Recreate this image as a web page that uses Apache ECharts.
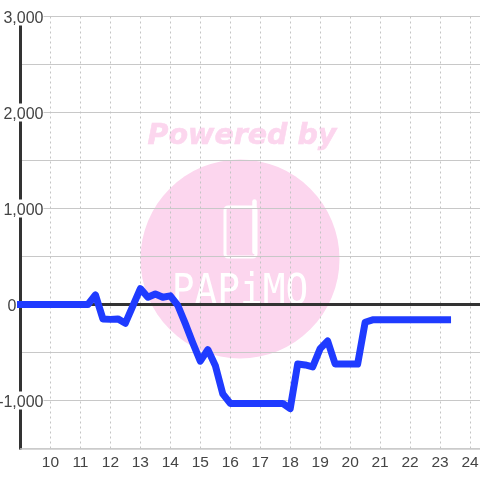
<!DOCTYPE html>
<html><head><meta charset="utf-8">
<style>html,body{margin:0;padding:0;background:#fff}#c{width:480px;height:480px}</style>
<script src="https://cdn.jsdelivr.net/npm/echarts@6/dist/echarts.min.js"></script>
</head><body><div id="c"></div>
<script>
var hours=[9,9.25,9.5,9.75,10,10.25,10.5,10.75,11,11.25,11.5,11.75,12,12.25,12.5,12.75,13,13.25,13.5,13.75,14,14.25,14.5,14.75,15,15.25,15.5,15.75,16,16.25,16.5,16.75,17,17.25,17.5,17.75,18,18.25,18.5,18.75,19,19.25,19.5,19.75,20,20.25,20.5,20.75,21,21.25,21.5,21.75,22,22.25,22.5,22.75,23,23.25];
var values=[0,0,0,0,0,0,0,0,0,0,100,-150,-155,-150,-195,-15,165,75,110,75,90,-10,-200,-400,-590,-470,-635,-930,-1030,-1030,-1030,-1030,-1030,-1030,-1030,-1030,-1085,-620,-630,-650,-460,-380,-620,-620,-620,-620,-185,-160,-160,-160,-160,-160,-160,-160,-160,-160,-160,-160];
var pink='#fcd6ee';
var chart=echarts.init(document.getElementById('c'),null,{renderer:'canvas'});
chart.setOption({
 animation:false,
 grid:{left:20.5,right:0,top:16.5,bottom:31.5,containLabel:false,outerBoundsMode:'none'},
 graphic:{elements:[
  {type:'circle',z:-10,silent:true,shape:{cx:240,cy:259,r:99.5},style:{fill:pink}},
  {type:'text',z:-10,silent:true,x:242,y:137,style:{text:'Powered by',fill:pink,stroke:pink,lineWidth:0.6,font:'italic bold 28.5px "DejaVu Sans"',align:'center',verticalAlign:'middle'}},
  {type:'rect',z:-9,silent:true,shape:{x:225,y:207,width:31,height:50,r:3},style:{fill:'none',stroke:'#fff',lineWidth:3}},
  {type:'line',z:-9,silent:true,shape:{x1:254.5,y1:201.5,x2:254.5,y2:252},style:{stroke:'#fff',lineWidth:4.5,lineCap:'round'}},
  {type:'text',z:-9,silent:true,x:240,y:293,scaleX:0.9,style:{text:'PAPiMO',fill:'#fff',font:'42px "DejaVu Sans Mono"',align:'center',verticalAlign:'middle'}}
 ]},
 xAxis:{type:'value',min:9,max:24.3333,interval:1,
  axisLine:{show:true,onZero:false,lineStyle:{color:'#cccccc',width:1.5}},
  axisTick:{show:false},
  axisLabel:{color:'#444444',fontSize:15.5,fontFamily:'"Liberation Sans"',margin:6,hideOverlap:false,
    formatter:function(v){return Number.isInteger(v)&&v>9?String(v):'';}},
  splitLine:{show:true,lineStyle:{color:'#c4c4c4',width:1,type:[2,3]}}},
 yAxis:{type:'value',min:-1500,max:3000,interval:500,
  axisLine:{show:true,onZero:false,lineStyle:{color:'#333333',width:3}},
  axisTick:{show:false},
  axisLabel:{color:'#444444',fontSize:16,fontFamily:'"Liberation Sans"',margin:-23,showMinLabel:true,showMaxLabel:true,
   formatter:function(v){
    if(v===0)return '{z|0}';
    if(v%1000!==0)return '';
    return '{w|'+echarts.format.addCommas(v)+'}';},
   rich:{w:{backgroundColor:'#fff',fontSize:16,color:'#444444',fontFamily:'"Liberation Sans"',height:14,padding:[4,0,0,1]},
         z:{fontSize:16,color:'#444444',fontFamily:'"Liberation Sans"',height:14,padding:[4,27,0,0]}}},
  splitLine:{show:true,lineStyle:{color:'#c8c8c8',width:1}}},
 series:[
  {type:'line',data:[[9,0],[24.3333,0]],showSymbol:false,silent:true,lineStyle:{color:'#333333',width:3},z:2},
  {type:'line',data:hours.map(function(h,i){return [h,values[i]];}),showSymbol:false,clip:false,z:3,
   lineStyle:{color:'#1f3bff',width:7,cap:'square',join:'round'}}
 ]
});
</script></body></html>
